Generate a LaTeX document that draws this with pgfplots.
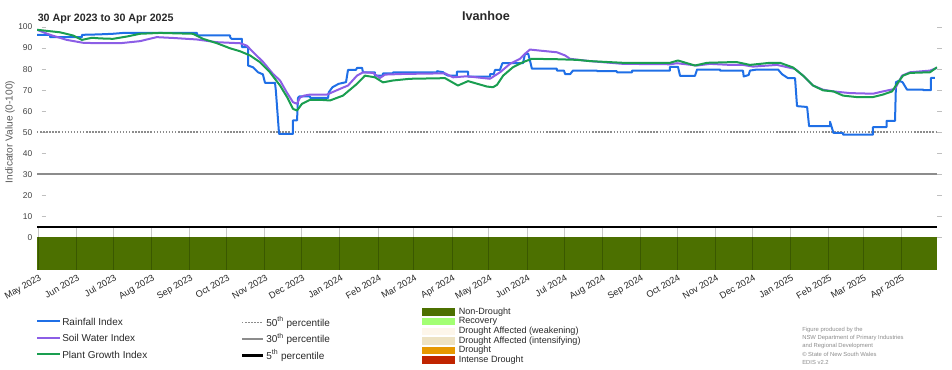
\documentclass[border=0pt]{standalone}
\usepackage{pgfplots}
\pgfplotsset{compat=1.18}
\usepackage{fontspec}
\setmainfont{Liberation Sans}
\definecolor{rain}{RGB}{31,111,230}
\definecolor{soil}{RGB}{140,94,230}
\definecolor{plant}{RGB}{26,158,80}
\definecolor{nond}{RGB}{76,112,0}
\definecolor{nondline}{RGB}{58,88,0}
\definecolor{recov}{RGB}{163,255,115}
\definecolor{weak}{RGB}{253,246,234}
\definecolor{inten}{RGB}{237,226,194}
\definecolor{drought}{RGB}{230,152,0}
\definecolor{intense}{RGB}{192,36,0}
\definecolor{txt}{RGB}{40,40,40}
\newcommand\fs[1]{\fontsize{#1}{#1}\selectfont}
\begin{document}
\begin{tikzpicture}
\path[use as bounding box] (0,0) rectangle (714pt,277.5pt);
\begin{axis}[
  scale only axis, width=675pt, height=183pt,
  at={(27.75pt,75pt)}, anchor=south west,
  xmin=0, xmax=731, ymin=-15.5, ymax=100.5,
  axis line style={draw=none},
  ytick={0,10,...,100},
  xtick={1,32,62,93,124,154,185,215,246,277,306,337,367,398,428,459,490,520,551,581,612,643,671,702},
  xticklabels={May 2023,Jun 2023,Jul 2023,Aug 2023,Sep 2023,Oct 2023,Nov 2023,Dec 2023,Jan 2024,Feb 2024,Mar 2024,Apr 2024,May 2024,Jun 2024,Jul 2024,Aug 2024,Sep 2024,Oct 2024,Nov 2024,Dec 2024,Jan 2025,Feb 2025,Mar 2025,Apr 2025},
  xtick style={draw=none},
  ytick style={draw=black!25, line width=0.8pt, xshift=3.5pt},
  major tick length=3.5pt,
  tick align=inside,
  yticklabel style={font=\fs{6.3}, text=black!75},
  xticklabel style={font=\fs{6.9}, text=txt, rotate=30, anchor=north east, inner sep=1pt, yshift=-1.5pt},
  /pgf/number format/assume math mode=true,
]
% drought category band (Non-Drought over whole period)
\addplot[fill=nond, draw=none] coordinates {(0,-15.5) (0,0) (731,0) (731,-15.5)} -- cycle;
\pgfplotsinvokeforeach{1,32,62,93,124,154,185,215,246,277,306,337,367,398,428,459,490,520,551,581,612,643,671,702}{
  \draw[black!22, line width=0.6pt] (axis cs:#1,0) -- (axis cs:#1,5);
  \draw[nondline, line width=0.6pt] (axis cs:#1,-15.5) -- (axis cs:#1,0);
}
% percentiles
\addplot[black!45, line width=1.1pt, dash pattern=on 1.1pt off 1.2pt] coordinates {(0,50) (731,50)};
\addplot[black!45, line width=1.3pt] coordinates {(0,30) (731,30)};
\addplot[black, line width=1.8pt] coordinates {(0,5) (731,5)};
% Rainfall Index
\addplot[rain, line width=1.5pt, line join=round] coordinates {
(0,96.3)(10.6,96.3)(10.6,95.2)(36.5,95.2)(36.5,96.3)(50,96.5)(61.7,96.8)(70,97.2)(130,97.2)(130,96.0)(156.8,96.0)(157,95.0)(158,94.4)(166.5,94.4)(166.5,90.4)(171.4,90.4)(171.4,81.7)(175.4,80.9)(179.5,78.5)(183.5,77.5)(185.2,73.5)(193.3,73.5)(194,69.8)(196.6,49.2)(207.9,49.2)(207.9,55.6)(211.2,55.6)(212,66.3)(213,67)(221.7,67)(222,66.3)(236.4,66.3)(237,69)(240,71.4)(245,73)(251,73.8)(252.6,79.6)(259,79.6)(260,80.6)(264,80.6)(264.8,78.5)(274.5,78.5)(274.5,76.9)(281,76.9)(281,78)(289.2,78)(289.2,78.5)(324.9,78.5)(325,79)(330,78.5)(331.4,77.6)(334,76.9)(341.1,76.9)(341.1,78.8)(350.1,78.8)(350.1,76.4)(367.9,76.4)(368,77.6)(371,77.6)(372,79.6)(376,79.6)(378,82.8)(394.7,82.8)(396.4,87.3)(399,87.3)(402,80.2)(422.3,80.2)(422.3,79.3)(428,79.3)(429,77.6)(433,77.6)(435.3,79.3)(454.8,79.3)(455,79)(471,79)(471,78.5)(483.3,78.5)(483.3,79.3)(514.1,79.3)(514.1,81.1)(520.6,81.1)(522.3,76.8)(534.4,76.8)(536.1,79.8)(554.8,79.8)(554.8,79.3)(573.4,79.3)(574,76.5)(578,77.2)(579.1,79.3)(584.8,79.8)(601.9,79.8)(605.1,77.6)(610,75.7)(615.7,75.7)(617.3,62.4)(625.5,62)(627.1,52.9)(644.1,52.9)(644.1,55)(646.9,49.7)(654.7,49.7)(654.7,48.8)(679,48.8)(679,52.4)(690,52.4)(690,55.4)(696.9,55.4)(697.7,73.8)(700,74.5)(703,73.8)(706.6,70.3)(719.6,70.3)(720,70)(726,70)(726.1,75.8)(729.3,75.8)
};
% Soil Water Index
\addplot[soil, line width=1.5pt, line join=round] coordinates {
(0,98.7)(10.6,96.3)(24.1,93.9)(37.6,92.5)(51.2,92.3)(67.4,92.3)(83.7,93.3)(97.2,95.2)(110.7,94.8)(129.7,94.1)(146,92.8)(164.9,92.3)(170.3,91.2)(175.7,88)(183.8,83.3)(191.7,77.7)(197.4,74.6)(202.8,69)(207.9,64.3)(211.2,63.5)(213.6,66.5)(217,67.4)(221.7,67.9)(235.5,67.9)(246.1,70.6)(252.6,72.2)(259.9,76.9)(264.8,78.5)(272.9,78.2)(278.6,75.8)(282.7,77.4)(297.3,77.7)(331.4,78)(337.9,76.1)(349.3,76.6)(367.9,75.4)(376.1,78.5)(384.2,82.5)(392.3,84.9)(396.4,87.3)(400.4,89.3)(408.5,88.8)(422.3,88)(428.9,86.5)(432.9,84.9)(449.2,83.8)(475.9,82.5)(514.1,82.3)(519.8,82.8)(536.1,81.7)(546.6,82.5)(562.9,82)(573.4,82)(581.5,81.2)(601,82)(615.7,80.1)(622.2,76.9)(630.3,72.2)(638.5,70.2)(646.9,69.4)(660.3,68.6)(679,68.3)(687.1,69.4)(696.9,70.6)(702.6,76.9)(709.1,78.5)(725.3,79.3)(731,80.6)
};
% Plant Growth Index
\addplot[plant, line width=1.5pt, line join=round] coordinates {
(0,98.7)(18.7,97.5)(29.2,96)(36.5,93.9)(44.7,94.9)(51.2,94.6)(61.7,94.4)(73.1,95.5)(83.7,96.8)(99.9,97.2)(126.7,96.8)(134.8,94.4)(146.2,92.3)(156.8,89.9)(164.9,88.5)(173,86.5)(181.1,83.3)(189.2,78.5)(197.4,72.2)(203.1,66.7)(207.9,61.1)(211.2,60.3)(215.2,63.5)(221.7,65.4)(229.9,65.4)(238,65.1)(248.5,67.4)(259.9,73)(266.4,76.9)(274.5,76.1)(281,73.7)(289.2,74.6)(303,75.4)(331.4,75.7)(341.9,72.2)(350.1,74.3)(365.5,71.7)(370.4,71.4)(373.6,72.5)(378.6,76.9)(386.6,80.9)(394.7,83.3)(402,84.9)(422.3,84.7)(438.6,84.4)(449.2,83.8)(475.9,83)(514.1,83)(520.6,84.1)(534.4,81.7)(544.2,83)(562.9,83.3)(568.6,83.3)(579.1,82)(595.4,83)(603.5,83)(614,80.8)(622.2,76.9)(630.3,72.2)(638.5,69.9)(646.9,69.4)(654.7,67.4)(666,66.7)(679,66.7)(687.1,67.9)(694.5,69.4)(698.5,73)(703.4,76.9)(709.1,78.2)(725.3,78.5)(731,80.9)
};
\end{axis}
\begin{scope}[x=0.75pt, y=-0.75pt, yshift=277.5pt]
% titles
\node[font=\fs{9.5}\bfseries, text=txt] at (486,15.5) {Ivanhoe};
\node[font=\fs{8}\bfseries, text=txt, anchor=west, inner sep=0pt] at (37.5,19) {30 Apr 2023 to 30 Apr 2025};
\node[font=\fs{7.6}, text=black!65, rotate=90] at (10,132) {Indicator Value (0-100)};
% series legend
\draw[rain, line width=1.5pt] (37,321.5) -- (59.5,321.5);
\node[font=\fs{7.5}, text=txt, anchor=west, inner sep=0pt] at (62,321.5) {Rainfall Index};
\draw[soil, line width=1.5pt] (37,338) -- (59.5,338);
\node[font=\fs{7.5}, text=txt, anchor=west, inner sep=0pt] at (62,338) {Soil Water Index};
\draw[plant, line width=1.5pt] (37,354.5) -- (59.5,354.5);
\node[font=\fs{7.5}, text=txt, anchor=west, inner sep=0pt] at (62,354.5) {Plant Growth Index};
% percentile legend
\draw[black!45, line width=1.1pt, dash pattern=on 1.1pt off 1.2pt] (242,322.5) -- (263,322.5);
\node[font=\fs{7.5}, text=txt, anchor=west, inner sep=0pt] at (266,322.5) {50\textsuperscript{th} percentile};
\draw[black!45, line width=1.5pt] (242,339) -- (263,339);
\node[font=\fs{7.5}, text=txt, anchor=west, inner sep=0pt] at (266,339) {30\textsuperscript{th} percentile};
\draw[black, line width=1.8pt] (242,355.5) -- (263,355.5);
\node[font=\fs{7.5}, text=txt, anchor=west, inner sep=0pt] at (266,355.5) {5\textsuperscript{th} percentile};
% drought category legend
\foreach \c/\t/\yy in {nond/Non-Drought/312, recov/Recovery/321.7, weak/Drought Affected (weakening)/331.4, inten/Drought Affected (intensifying)/341, drought/Drought/350.6, intense/Intense Drought/360.3}{
  \fill[\c] (422,\yy-3.8) rectangle (455,\yy+3.8);
  \node[font=\fs{6.8}, text=txt, anchor=west, inner sep=0pt] at (458.5,\yy) {\t};
}
% credit
\foreach \t/\yy in {Figure produced by the/330, NSW Department of Primary Industries/338, and Regional Development/346, {\textcopyright{} State of New South Wales}/354, EDIS v2.2/362}{
  \node[font=\fs{4.4}, text=black!45, anchor=west, inner sep=0pt] at (802,\yy) {\t};
}
\end{scope}
\end{tikzpicture}
\end{document}
